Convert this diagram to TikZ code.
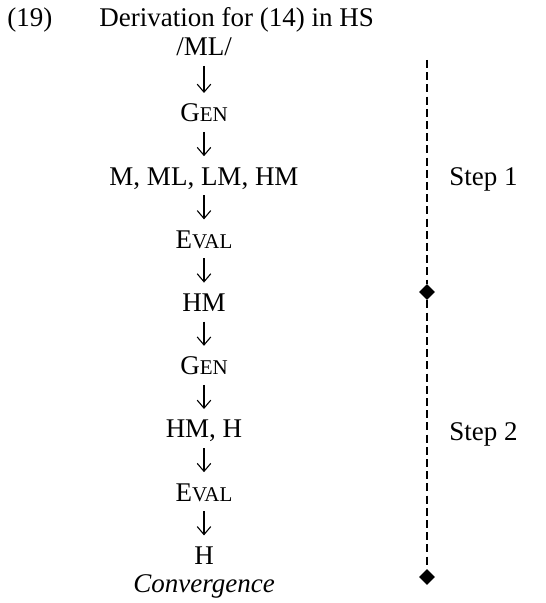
\documentclass[tikz,border=0pt]{standalone}
\usepackage{fontspec}
\setmainfont{Liberation Serif}
\usetikzlibrary{arrows.meta,shapes.geometric}

\newcommand{\fakesc}[1]{{\fontsize{10.5}{12}\selectfont #1}}

\begin{document}
\begin{tikzpicture}[x=0.5pt,y=-0.5pt,
    every node/.style={font=\fontsize{13.5}{16}\selectfont, inner sep=0pt,
                       text height=8.9pt, text depth=0pt},
    derive/.style={-{Straight Barb[length=4pt,width=6.8pt]}, line width=0.55pt,
                   shorten <=9.5pt, shorten >=10pt},
    stepline/.style={line width=1.1pt, dash pattern=on 4pt off 2.1pt},
    stepend/.style={diamond, fill=black, minimum size=8pt, text height=, text depth=}]
  \useasboundingbox (0,0) rectangle (545,603);
  % heading
  \node[anchor=west] (num) at (7,18) {(19)};
  \node[anchor=west] (title) at (99,18) {Derivation for (14) in HS};
  % derivation column
  \node (ml) at (204,47) {/ML/};
  \node (gen1) at (204,113) {G\fakesc{EN}};
  \node (cand1) at (204,176.2) {M, ML, LM, HM};
  \node (eval1) at (204,239.4) {E\fakesc{VAL}};
  \node (hm) at (204,302.6) {HM};
  \node (gen2) at (204,365.8) {G\fakesc{EN}};
  \node (cand2) at (204,429) {HM, H};
  \node (eval2) at (204,492.2) {E\fakesc{VAL}};
  \node (h) at (204,555.4) {H};
  \node (conv) at (204,584) {\itshape Convergence};
  \draw[derive] (ml.center) -- (gen1.center);
  \draw[derive] (gen1.center) -- (cand1.center);
  \draw[derive] (cand1.center) -- (eval1.center);
  \draw[derive] (eval1.center) -- (hm.center);
  \draw[derive] (hm.center) -- (gen2.center);
  \draw[derive] (gen2.center) -- (cand2.center);
  \draw[derive] (cand2.center) -- (eval2.center);
  \draw[derive] (eval2.center) -- (h.center);
  % steps
  \coordinate (top) at (427,60);
  \node[stepend] (end1) at (427,292) {};
  \node[stepend] (end2) at (427,577) {};
  \draw[stepline] (top) -- (end1);
  \draw[stepline] (end1) -- (end2);
  \node[anchor=west] (step1) at (449,177) {Step 1};
  \node[anchor=west] (step2) at (449,432) {Step 2};
\end{tikzpicture}
\end{document}
